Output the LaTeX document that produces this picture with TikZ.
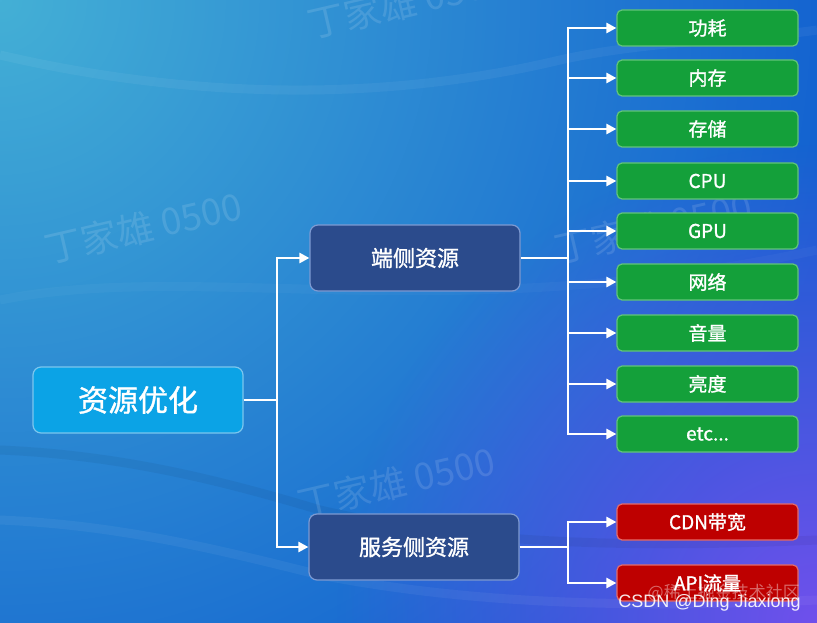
\documentclass[tikz,border=0pt]{standalone}
\usepackage{fontspec}
\setmainfont{Liberation Sans}
\newfontfamily\cjk{Noto Sans CJK SC}
\newfontfamily\cjkm[FakeBold=1.2]{Noto Sans CJK SC}
\usetikzlibrary{arrows.meta,calc,fadings}
\definecolor{rootfill}{HTML}{0BA3E6}
\definecolor{rootline}{HTML}{7CC6EE}
\definecolor{midfill}{HTML}{2B4B8C}
\definecolor{midline}{HTML}{7D9AD2}
\definecolor{leaffill}{HTML}{14A03A}
\definecolor{leafline}{HTML}{62C47A}
\definecolor{redfill}{HTML}{BE0000}
\definecolor{redline}{HTML}{E46A6A}
\definecolor{bgbase}{HTML}{1260D0}
\definecolor{bgteal}{HTML}{44B0D6}
\definecolor{bgpurple}{HTML}{7050EC}
\tikzfading[name=radfade, inner color=transparent!0, outer color=transparent!100]
\begin{document}
\begin{tikzpicture}[x=1pt,y=-1pt,
  rootbox/.style={draw=rootline,fill=rootfill,line width=1.2pt,rounded corners=8pt,
    minimum width=210pt,minimum height=66pt,text=white,font=\cjkm\fontsize{30}{31}\selectfont,inner sep=0pt},
  midbox/.style={draw=midline,fill=midfill,line width=1.2pt,rounded corners=8pt,
    minimum width=210pt,minimum height=66pt,text=white,font=\cjkm\fontsize{22}{23}\selectfont,inner sep=0pt},
  leafbox/.style={draw=leafline,fill=leaffill,line width=1.2pt,rounded corners=5pt,
    minimum width=181pt,minimum height=36pt,text=white,font=\cjkm\fontsize{19}{20}\selectfont,inner sep=0pt},
  redbox/.style={leafbox,draw=redline,fill=redfill},
  conn/.style={draw=white,line width=2.8pt},
  arr/.style={conn,-{Triangle[length=10pt,width=10pt]}},
  wm/.style={text=white,opacity=0.12,font=\cjk\fontsize{37}{37}\selectfont,rotate=13,anchor=west,inner sep=0pt},
  wave/.style={line width=9pt,opacity=0.05}
]
\useasboundingbox (0,0) rectangle (817,623);
\begin{scope}
\clip (0,0) rectangle (817,623);
\fill[bgbase] (0,0) rectangle (817,623);
\fill[bgteal,path fading=radfade] (0,0) circle (860);
\fill[bgpurple,path fading=radfade] (817,623) circle (480);
% soft waves
\draw[wave,white] (0,55) .. controls (150,90) and (350,110) .. (560,60) .. controls (650,40) and (750,40) .. (817,30);
\draw[wave,black] (0,450) .. controls (120,455) and (220,480) .. (320,510) .. controls (450,540) and (600,550) .. (817,540);
\draw[wave,white] (0,520) .. controls (120,525) and (220,550) .. (320,575) .. controls (450,600) and (600,610) .. (817,600);
\draw[wave,white,opacity=0.03] (0,300) .. controls (200,260) and (450,330) .. (817,250);
\end{scope}
% watermarks
\node[wm] (w1) at (45,250) {丁家雄 0500};
\node[wm] (w2) at (298,505) {丁家雄 0500};
\node[wm] (w3) at (555,250) {丁家雄 0500};
\node[wm] (w4) at (308,25) {丁家雄 0500};

% nodes
\node[rootbox] (root) at (138,400) {资源优化};
\node[midbox] (m1) at (415,258) {端侧资源};
\node[midbox] (m2) at (414,547) {服务侧资源};

\node[leafbox] (l1) at (707.5,28) {功耗};
\node[leafbox] (l2) at (707.5,78) {内存};
\node[leafbox] (l3) at (707.5,129) {存储};
\node[leafbox] (l4) at (707.5,181) {CPU};
\node[leafbox] (l5) at (707.5,231) {GPU};
\node[leafbox] (l6) at (707.5,282) {网络};
\node[leafbox] (l7) at (707.5,333) {音量};
\node[leafbox] (l8) at (707.5,384) {亮度};
\node[leafbox] (l9) at (707.5,434) {etc...};
\node[redbox] (r1) at (707.5,522) {CDN带宽};
\node[redbox] (r2) at (707.5,583) {API流量};

% connectors
\coordinate (j0) at (277,400);
\coordinate (j1) at (568,258);
\coordinate (j2) at (568,547);
\draw[conn] (root.east) -- (j0);
\draw[arr] (j0) |- (m1.west);
\draw[arr] (j0) |- (m2.west);
\draw[conn] (m1.east) -- (j1);
\foreach \n in {l1,l2,l3,l4,l5,l6,l7,l8,l9} \draw[arr] (j1) |- (\n.west);
\draw[conn] (m2.east) -- (j2);
\draw[arr] (j2) |- (r1.west);
\draw[arr] (j2) |- (r2.west);

% site watermark
\node[anchor=east,text=white,opacity=0.4,font=\cjk\fontsize{17}{17}\selectfont,inner sep=0pt] (s1) at (800,593) {@稀土掘金技术社区};
\node[anchor=east,text=white,opacity=0.9,font=\fontsize{18}{18}\selectfont,inner sep=0pt] (s2) at (801,603) {CSDN @Ding Jiaxiong};
\end{tikzpicture}
\end{document}
